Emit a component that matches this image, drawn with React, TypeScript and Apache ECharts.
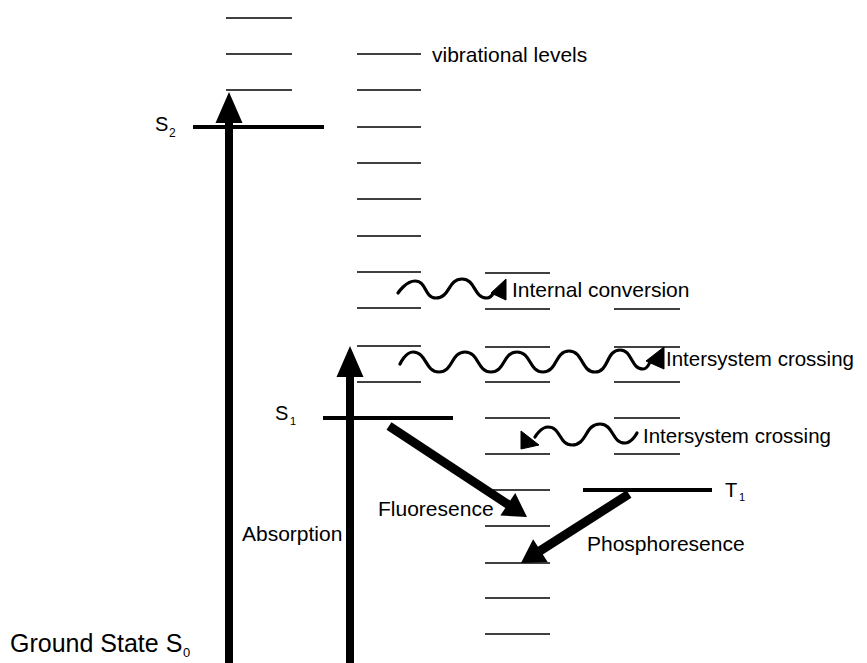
import React, { useEffect, useRef } from "react";
import * as echarts from "echarts";

// ---------- DATA (in reference pixel units) ----------
// Vibrational level heights for each column of short lines
const colAVib = [18, 54, 90];
const colBVib = [54, 90, 127, 163, 199, 236, 272, 308, 346, 382];
const colCVib = [273, 309, 347, 382, 418, 454, 490, 526, 563, 598, 634];
const colDVib = [309, 347, 382, 418, 454];
// Horizontal extent of each column
const colSpans = [
  [226, 292],
  [357, 421],
  [485, 550],
  [614, 680],
];
// Electronic states
const stateNames = ["S2", "S1", "T1"];
const stateLevels = [127, 418, 490];
const stateSpans = [
  [193, 324],
  [323, 453],
  [583, 712],
];

// Straight transitions: tail -> tip
const arrowNames = ["Absorption S0→S2", "Absorption S0→S1", "Fluoresence", "Phosphoresence"];
const arrowTails = [
  [229, 663],
  [350, 663],
  [389, 426],
  [629, 494],
];
const arrowTips = [
  [229, 92],
  [350, 346],
  [527, 517],
  [521, 563],
];
const arrowKinds = ["vertical", "vertical", "diagonal", "diagonal"];

// Wavy (non-radiative) transitions: extreme points of each wave
const waveInternalConversion = [
  [398, 293], [415, 281], [436, 298], [462, 279], [487, 298], [494, 292],
];
const waveIscUpper = [
  [400, 364], [413, 352], [439, 372], [465, 352], [491, 372], [517, 352],
  [543, 372], [569, 351], [595, 372], [620, 350], [643, 369], [650, 362],
];
const waveIscLower = [
  [637, 433], [625, 443], [600, 424], [572, 445], [548, 427], [535, 437],
];
// Arrow heads at the wave ends (triangle vertices)
const waveHeads = [
  [[506, 279], [491, 293], [506, 300]],
  [[664, 347], [646, 361], [664, 369]],
  [[521, 431], [521, 449], [539, 445]],
];

// Text labels
const labelTexts = [
  "vibrational levels",
  "S", "2",
  "S", "1",
  "T", "1",
  "Ground State S", "0",
  "Absorption",
  "Fluoresence",
  "Internal conversion",
  "Intersystem crossing",
  "Intersystem crossing",
  "Phosphoresence",
];

// ---------- LAYOUT / STYLE ----------
const W = 867;
const H = 663;
const FONT = "'Liberation Sans', Arial, Helvetica, sans-serif";
const LABEL_LAYOUT = [
  { x: 432, y: 54, size: 21 },
  { x: 155, y: 124, size: 20 },
  { x: 169, y: 133, size: 12 },
  { x: 275, y: 413, size: 20 },
  { x: 290, y: 421, size: 11 },
  { x: 725, y: 490, size: 20 },
  { x: 739, y: 497, size: 11 },
  { x: 10, y: 643, size: 25 },
  { x: 183, y: 652, size: 13 },
  { x: 242, y: 533, size: 21 },
  { x: 378, y: 508, size: 21 },
  { x: 512, y: 289, size: 21 },
  { x: 666, y: 358, size: 20.5 },
  { x: 643, y: 435, size: 20.5 },
  { x: 587, y: 543, size: 21 },
];
const ARROW_STYLE: Record<string, { shaft: number; head: number; headLen: number }> = {
  vertical: { shaft: 8, head: 27, headLen: 31 },
  diagonal: { shaft: 9, head: 27, headLen: 23 },
};
const INK = "#000000";

export default function App() {
  const ref = useRef<HTMLDivElement>(null);

  useEffect(() => {
    if (!ref.current) return;
    const chart = echarts.init(ref.current, undefined, { renderer: "svg" });

    const vibRows: number[][] = [];
    [colAVib, colBVib, colCVib, colDVib].forEach((ys, c) => {
      ys.forEach((y) => vibRows.push([colSpans[c][0], colSpans[c][1], y]));
    });
    const stateRows = stateLevels.map((y, i) => [stateSpans[i][0], stateSpans[i][1], y]);

    const lineRender = (width: number) => (params: any, api: any) => {
      const p1 = api.coord([api.value(0), api.value(2)]);
      const p2 = api.coord([api.value(1), api.value(2)]);
      return {
        type: "line",
        shape: { x1: p1[0], y1: p1[1], x2: p2[0], y2: p2[1] },
        style: { stroke: INK, lineWidth: width },
      };
    };

    const arrowRows = arrowTails.map((t, i) => [t[0], t[1], arrowTips[i][0], arrowTips[i][1]]);

    const waveSeries = [waveInternalConversion, waveIscUpper, waveIscLower].map((pts, i) => ({
      type: "line",
      name: "wave" + i,
      data: pts,
      smooth: 0.55,
      symbol: "none",
      silent: true,
      clip: false,
      lineStyle: { color: INK, width: 3.2, cap: "round", join: "round" },
      z: 3,
    }));

    const option: any = {
      animation: false,
      backgroundColor: "#ffffff",
      grid: { left: 0, right: 0, top: 0, bottom: 0 },
      xAxis: { type: "value", min: 0, max: W, show: false },
      yAxis: { type: "value", min: 0, max: H, inverse: true, show: false },
      series: [
        {
          type: "custom",
          name: "vibrational levels",
          data: vibRows,
          encode: { x: [0, 1], y: 2 },
          renderItem: lineRender(1.6),
          silent: true,
          clip: false,
          z: 1,
        },
        {
          type: "custom",
          name: "electronic states",
          data: stateRows,
          encode: { x: [0, 1], y: 2 },
          renderItem: lineRender(4),
          silent: true,
          clip: false,
          z: 2,
        },
        {
          type: "custom",
          name: "transitions",
          data: arrowRows,
          encode: { x: [0, 2], y: [1, 3] },
          silent: true,
          clip: false,
          z: 4,
          renderItem: (params: any, api: any) => {
            const i = params.dataIndex;
            const st = ARROW_STYLE[arrowKinds[i]];
            const t = api.coord([api.value(0), api.value(1)]);
            const h = api.coord([api.value(2), api.value(3)]);
            const dx = h[0] - t[0];
            const dy = h[1] - t[1];
            const L = Math.hypot(dx, dy);
            const ux = dx / L, uy = dy / L;
            const nx = -uy, ny = ux;
            const bx = h[0] - ux * st.headLen, by = h[1] - uy * st.headLen;
            const sw = st.shaft / 2, hw = st.head / 2;
            const pts = [
              [t[0] + nx * sw, t[1] + ny * sw],
              [bx + nx * sw, by + ny * sw],
              [bx + nx * hw, by + ny * hw],
              [h[0], h[1]],
              [bx - nx * hw, by - ny * hw],
              [bx - nx * sw, by - ny * sw],
              [t[0] - nx * sw, t[1] - ny * sw],
            ];
            return { type: "polygon", shape: { points: pts }, style: { fill: INK } };
          },
        },
        ...waveSeries,
        {
          type: "custom",
          name: "wave heads",
          data: waveHeads.map((tri) => [tri[0][0], tri[0][1], tri[1][0], tri[1][1], tri[2][0], tri[2][1]]),
          encode: { x: [0, 2, 4], y: [1, 3, 5] },
          silent: true,
          clip: false,
          z: 5,
          renderItem: (params: any, api: any) => {
            const pts = [0, 1, 2].map((k) => api.coord([api.value(2 * k), api.value(2 * k + 1)]));
            return { type: "polygon", shape: { points: pts }, style: { fill: INK, stroke: INK, lineWidth: 1 } };
          },
        },
        {
          type: "custom",
          name: "labels",
          data: LABEL_LAYOUT.map((l) => [l.x, l.y]),
          encode: { x: 0, y: 1 },
          silent: true,
          clip: false,
          z: 6,
          renderItem: (params: any, api: any) => {
            const i = params.dataIndex;
            const p = api.coord([api.value(0), api.value(1)]);
            return {
              type: "text",
              x: p[0],
              y: p[1],
              style: {
                text: labelTexts[i],
                fill: INK,
                fontSize: LABEL_LAYOUT[i].size,
                fontFamily: FONT,
                align: "left",
                verticalAlign: "middle",
                textAlign: "left",
                textVerticalAlign: "middle",
              },
            };
          },
        },
      ],
    };
    chart.setOption(option);
    return () => chart.dispose();
  }, []);

  return (
    <div
      ref={ref}
      style={{ position: "absolute", left: 0, top: 0, width: W, height: H, background: "#fff" }}
    />
  );
}
